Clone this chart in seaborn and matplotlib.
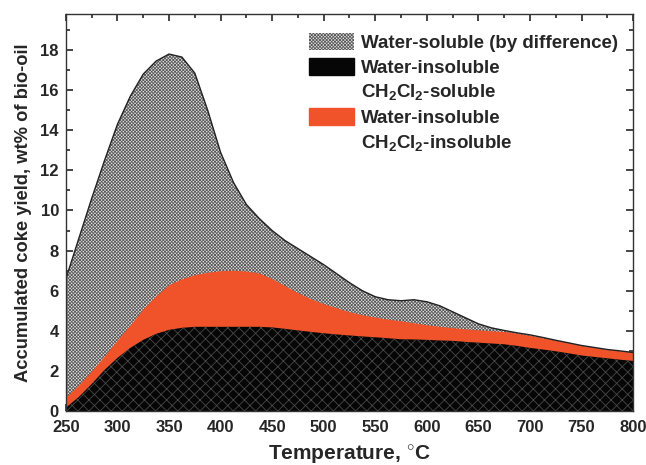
import numpy as np
import pandas as pd
import matplotlib
matplotlib.use("Agg")
import matplotlib.pyplot as plt
import matplotlib.patches as mpatches
import seaborn as sns

# temperature grid, deg C (every 12.5 C)
temperature = [250, 262.5, 275, 287.5, 300, 312.5, 325, 337.5, 350, 362.5, 375, 387.5,
               400, 412.5, 425, 437.5, 450, 462.5, 475, 487.5, 500, 512.5, 525, 537.5,
               550, 562.5, 575, 587.5, 600, 612.5, 625, 637.5, 650, 662.5, 675, 687.5,
               700, 712.5, 725, 737.5, 750, 762.5, 775, 787.5, 800]

# accumulated (stacked) coke yield, wt% of bio-oil
total_yield = [6.6, 8.6, 10.6, 12.5, 14.3, 15.7, 16.8, 17.45, 17.8, 17.65, 16.85, 15.0,
               12.9, 11.4, 10.3, 9.6, 9.0, 8.5, 8.1, 7.7, 7.3, 6.85, 6.4, 6.0,
               5.7, 5.55, 5.5, 5.55, 5.45, 5.25, 4.95, 4.65, 4.35, 4.15, 4.02, 3.9,
               3.8, 3.67, 3.53, 3.4, 3.27, 3.17, 3.07, 3.0, 2.92]
insoluble_top = [0.7, 1.3, 2.0, 2.75, 3.55, 4.3, 5.1, 5.75, 6.3, 6.6, 6.8, 6.92,
                 7.0, 7.02, 6.98, 6.88, 6.6, 6.25, 5.9, 5.6, 5.35, 5.15, 4.95, 4.8,
                 4.68, 4.58, 4.5, 4.4, 4.3, 4.22, 4.16, 4.1, 4.05, 4.0, 3.97, 3.88,
                 3.77, 3.65, 3.53, 3.4, 3.27, 3.17, 3.07, 3.0, 2.92]
dcm_soluble_top = [0.17, 0.7, 1.35, 2.05, 2.65, 3.15, 3.55, 3.85, 4.05, 4.15, 4.2, 4.2,
                   4.2, 4.2, 4.2, 4.2, 4.17, 4.1, 4.02, 3.95, 3.88, 3.82, 3.77, 3.72,
                   3.68, 3.63, 3.58, 3.57, 3.55, 3.52, 3.5, 3.45, 3.41, 3.37, 3.33, 3.25,
                   3.15, 3.07, 2.98, 2.88, 2.77, 2.7, 2.63, 2.56, 2.5]

labels = ["Water-soluble (by difference)",
          "Water-insoluble",
          "CH$_2$Cl$_2$-soluble",
          "Water-insoluble",
          "CH$_2$Cl$_2$-insoluble"]
orange = "#F0532A"
grey_face = "#e2e2e2"
grey_hatch = "#5a5a5a"

df = pd.DataFrame({"T": temperature, "total": total_yield,
                   "orange": insoluble_top, "black": dcm_soluble_top})

sns.set_style("ticks")
plt.rcParams["font.family"] = ["Liberation Sans", "DejaVu Sans"]
plt.rcParams["font.weight"] = "bold"
plt.rcParams["mathtext.fontset"] = "custom"
plt.rcParams["mathtext.rm"] = "Liberation Sans:bold"
plt.rcParams["mathtext.bf"] = "Liberation Sans:bold"
plt.rcParams["mathtext.default"] = "rm"
plt.rcParams["hatch.linewidth"] = 0.6

fig = plt.figure(figsize=(6.46, 4.65), dpi=100)
ax = fig.add_axes([0.102, 0.116, 0.878, 0.854])

ax.fill_between(df["T"], 0, df["total"], facecolor=grey_face, edgecolor=grey_hatch,
                hatch="xxxxxxxxxx", linewidth=0)
sns.lineplot(data=df, x="T", y="total", color="#222222", linewidth=1.0, ax=ax)
ax.fill_between(df["T"], 0, df["orange"], facecolor=orange, edgecolor=orange, linewidth=0)
ax.fill_between(df["T"], 0, df["black"], facecolor="#060606", edgecolor="#484848",
                hatch="xxx", linewidth=0)

ax.set_xlim(250, 800)
ax.set_ylim(0, 19.8)
ax.set_xticks(np.arange(250, 801, 50))
ax.set_xticks(np.arange(275, 800, 50), minor=True)
ax.set_yticks(np.arange(0, 19, 2))
ax.set_yticks(np.arange(1, 20, 2), minor=True)
ax.tick_params(which="both", direction="in", top=True, right=True, width=1.2,
               labelsize=12)
ax.tick_params(which="major", length=5)
ax.tick_params(which="minor", length=3)
ax.tick_params(axis="x", pad=6.5)
ax.tick_params(axis="y", pad=5)
for s in ax.spines.values():
    s.set_linewidth(1.0)
    s.set_color("#333333")
for t in ax.get_xticklabels() + ax.get_yticklabels():
    t.set_fontweight("bold")

ax.set_xlabel("Temperature, $^{\\circ}$C", fontsize=15, fontweight="bold", labelpad=6)
ax.set_ylabel("Accumulated coke yield, wt% of bio-oil", fontsize=13.2, fontweight="bold",
              labelpad=6)

blank = mpatches.Patch(facecolor="none", edgecolor="none")
handles = [mpatches.Patch(facecolor=grey_face, edgecolor=grey_hatch, hatch="xxxxxxxxxx",
                          linewidth=0),
           mpatches.Patch(facecolor="#060606", edgecolor="#060606"),
           blank,
           mpatches.Patch(facecolor=orange, edgecolor=orange),
           blank]
ax.legend(handles, labels, loc="upper right", bbox_to_anchor=(1.0, 0.99),
          frameon=False, handlelength=2.4, handleheight=1.05,
          handletextpad=0.4, labelspacing=0.3, borderpad=0.3,
          prop={"weight": "bold", "size": 13.5})

fig.savefig("out.png", dpi=100)
